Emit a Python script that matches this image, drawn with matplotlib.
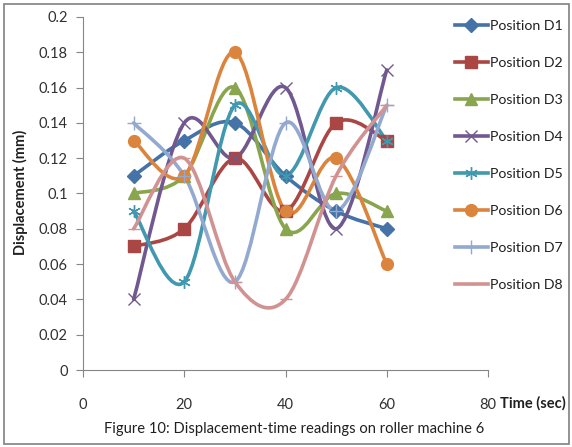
import numpy as np
import matplotlib
matplotlib.use("Agg")
import matplotlib.pyplot as plt
from matplotlib.path import Path
from matplotlib.patches import PathPatch, Rectangle

# Время измерений и показания смещения по позициям
time_sec = [10, 20, 30, 40, 50, 60]
d1 = [0.11, 0.13, 0.14, 0.11, 0.09, 0.08]
d2 = [0.07, 0.08, 0.12, 0.09, 0.14, 0.13]
d3 = [0.10, 0.11, 0.16, 0.08, 0.10, 0.09]
d4 = [0.04, 0.14, 0.12, 0.16, 0.08, 0.17]
d5 = [0.09, 0.05, 0.15, 0.11, 0.16, 0.13]
d6 = [0.13, 0.11, 0.18, 0.09, 0.12, 0.06]
d7 = [0.14, 0.11, 0.05, 0.14, 0.09, 0.15]
d8 = [0.08, 0.12, 0.05, 0.04, 0.11, 0.15]
labels = ["Position D%d" % i for i in range(1, 9)]
y_ticks = [0, 0.02, 0.04, 0.06, 0.08, 0.1, 0.12, 0.14, 0.16, 0.18, 0.2]
y_tick_labels = ["0", "0.02", "0.04", "0.06", "0.08", "0.1", "0.12", "0.14", "0.16", "0.18", "0.2"]
x_ticks = [0, 20, 40, 60, 80]

series = [d1, d2, d3, d4, d5, d6, d7, d8]
colors = ["#4572A7", "#AA4643", "#89A54E", "#71588F",
          "#4198AF", "#DB843D", "#93A9CF", "#D19392"]
markers = ["D", "s", "^", "x", (6, 2, 0), "o", "+", "_"]
msizes = [7, 8.5, 8.5, 9, 9, 8.5, 10, 8]

plt.rcParams["font.family"] = ["Lato", "DejaVu Sans"]
TXT = "#202020"


def smooth_path(x, y):
    # сглаженная линия: кубические Безье с контрольными точками по соседям
    x = np.asarray(x, float)
    y = np.asarray(y, float)
    n = len(x)
    verts = [(x[0], y[0])]
    codes = [Path.MOVETO]
    for i in range(n - 1):
        x0, y0 = (x[i - 1], y[i - 1]) if i > 0 else (x[i], y[i])
        x3, y3 = (x[i + 2], y[i + 2]) if i + 2 < n else (x[i + 1], y[i + 1])
        c1 = (x[i] + (x[i + 1] - x0) / 6, y[i] + (y[i + 1] - y0) / 6)
        c2 = (x[i + 1] - (x3 - x[i]) / 6, y[i + 1] - (y3 - y[i]) / 6)
        verts += [c1, c2, (x[i + 1], y[i + 1])]
        codes += [Path.CURVE4] * 3
    return Path(verts, codes)


fig = plt.figure(figsize=(5.72, 4.47), dpi=100)
ax = fig.add_axes([83 / 572, 1 - 370 / 447, 405 / 572, 353 / 447])

handles = []
for ys, c, m, ms, lab in zip(series, colors, markers, msizes, labels):
    ax.add_patch(PathPatch(smooth_path(time_sec, ys), fill=False, edgecolor=c,
                           lw=2.6, capstyle="round", joinstyle="round"))
    ax.plot(time_sec, ys, ls="none", marker=m, ms=ms, color=c, mec=c, mew=1.0)
    handles.append(ax.plot([], [], color=c, lw=2.6, marker=m, ms=ms, mec=c, mew=1.0)[0])

ax.set_xlim(0, 80)
ax.set_ylim(0, 0.2)
ax.set_xticks(x_ticks)
ax.set_yticks(y_ticks)
ax.set_yticklabels(y_tick_labels)
for s in ("top", "right"):
    ax.spines[s].set_visible(False)
for s in ("left", "bottom"):
    ax.spines[s].set_color("#868686")
ax.tick_params(axis="both", direction="out", length=5, color="#868686",
               labelsize=10.5, labelcolor="#303030")
ax.tick_params(axis="x", pad=15)
ax.tick_params(axis="y", pad=6)

fig.text(20 / 572, 1 - 192 / 447, "Displacement (mm)", rotation=90, ha="center",
         va="center", fontsize=10.5, fontweight="bold", color=TXT)
fig.text(500 / 572, 1 - 403 / 447, "Time (sec)", ha="left", va="center",
         fontsize=10.5, fontweight="bold", color=TXT)
fig.text(294 / 572, 1 - 429 / 447, "Figure 10: Displacement-time readings on roller machine 6",
         ha="center", va="center", fontsize=10.6, color=TXT)

fig.legend(handles, labels, loc="upper left", bbox_to_anchor=(455 / 572, 1 - 20 / 447),
           frameon=False, fontsize=10.2, labelspacing=1.76, handlelength=2.3,
           handletextpad=0.2, borderpad=0, borderaxespad=0, labelcolor=TXT)

fig.add_artist(Rectangle((4 / 572, 3 / 447), 565 / 572, 440 / 447, transform=fig.transFigure,
                         fill=False, edgecolor="#808080", lw=1.2))

fig.savefig("out.png", dpi=100)
